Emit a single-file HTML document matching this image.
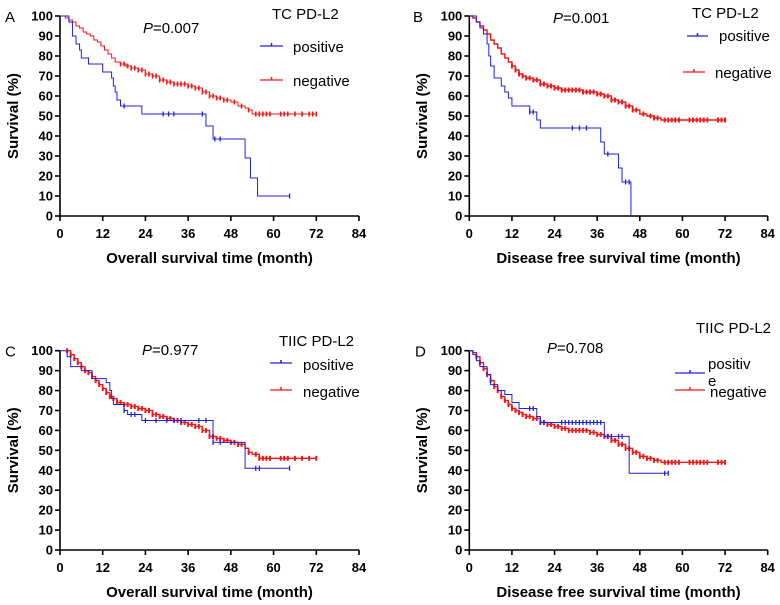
<!DOCTYPE html>
<html><head><meta charset="utf-8"><style>
html,body{margin:0;padding:0;background:#fff;}
svg{display:block;font-family:"Liberation Sans",Arial,sans-serif;}
</style></head><body>
<svg id="chart" width="780" height="605"></svg>
<script>
const xTickLabels=[0,12,24,36,48,60,72,84];
const yTickLabels=[0,10,20,30,40,50,60,70,80,90,100];
// Panel A
const aPosT=[0,2.5,3.5,4.5,5.5,6,8,12,14.5,15,15.5,16,17,23,41,43,52,53.5,55.5,64.5];
const aPosS=[100,97,90,86,83,79,76,72,69,65,62,58,55,51,45,38.5,29,19,10,10];
const aPosC=[18,29,30.5,32,40,43.5,45,64.5];
const aNegT=[0,1.5,2.5,3.5,4.5,5.5,6.5,7.5,8.5,9.5,10.5,11.5,12.5,13.5,14.5,15.5,17,18.5,20,22,24,26,28,30,32,34,36,38,40,42,44,46,48,50,52,53,54,72];
const aNegS=[100,99,98,97,95,94,92,91,90,88,87,85,83,81,79,77,76,75,74,73,71,70,68,67,66,66,65,64,62,60,59,58,57,55,54,53,51,51];
const aNegC=[17,18,19,20,21,22,23,24,25,26,27,28,29,30,31,32,33,34,35,36,37,38,39,40,41,42,43,44,45,46,47,49,51,53,55,56,57,58,59,62,63,64,66,68,70,71,72];
// Panel B
const bPosT=[0,2,3,4,5,5.5,6,7,9,10,11,12,17,19,20,37,38,42,43,45.5];
const bPosS=[100,97,94,91,86,80,75,69,65,62,59,55,52,48,44,37,31,24,17,0];
const bPosC=[17,18,29,31,33,39,44,45];
const bNegT=[0,1,2,3,4,5,6,7,8,9,10,11,12,13,14,15,16,18,20,22,24,26,28,30,32,34,36,38,40,42,44,46,48,50,52,54,72];
const bNegS=[100,99,97,95,93,91,88,86,84,81,79,77,75,73,71,70,69,68,66,65,64,63,63,63,62,62,61,60,58,57,55,53,51,50,49,48,48];
const bNegC=[12,13,14,15,16,17,18,19,20,21,22,23,24,25,26,27,28,29,30,31,32,33,34,35,36,37,38,39,40,41,42,43,44,45,46,47,49,51,52,53,55,56,57,58,59,62,63,64,65,66,67,70,71,72];
// Panel C
const cPosT=[0,1.5,2,3,6,9,13,14,14.5,15,18,19,23,43,52,64.5];
const cPosS=[100,100,97,92,90,86,84,80,76,73,70,68,65,54,41,41];
const cPosC=[18,20,21,24,27,30,32,34,39,41,43,45,55,56,64.5];
const cNegT=[1.5,3,4,5,6,7,8,9,10,11,12,13,14,15,16,18,20,22,24,26,28,30,32,34,36,38,40,42,44,46,48,50,52,53,54,56,72];
const cNegS=[100,98,96,94,92,90,89,87,85,83,81,79,77,76,74,73,72,71,70,68,67,66,65,64,63,62,60,57,56,55,54,53,51,49,48,46,46];
const cNegC=[2,3,4,5,6,7,8,9,10,11,12,13,14,15,16,17,18,19,20,21,22,23,24,25,26,27,28,29,30,31,32,33,34,35,36,37,38,39,40,41,42,43,44,45,46,47,48,49,50,51,53,55,56,57,58,59,62,63,64,66,68,70,72];
// Panel D
const dPosT=[0,1,2,3,5,6,8,10,12,14,19,20,38,45,56];
const dPosS=[100,98,95,92,88,83,80,78,74,71,67,64,57,38.5,38.5];
const dPosC=[17,18,20,21,26,27,28,29,30,31,32,33,34,35,36,37,39,40,42,43,55,56];
const dNegT=[0,1,2,3,4,5,6,7,8,9,10,11,12,13,14,15,16,18,20,22,24,26,28,30,32,34,36,38,40,42,44,46,48,50,52,54,72];
const dNegS=[100,99,97,94,91,88,85,82,80,77,75,73,71,70,69,68,67,66,64,63,62,61,60,60,60,59,58,57,55,53,51,49,47,46,45,44,44];
const dNegC=[2,3,4,5,6,7,8,9,10,11,12,13,14,15,16,17,18,19,20,21,22,23,24,25,26,27,28,29,30,31,32,33,34,35,36,37,38,39,40,41,42,43,44,45,46,47,48,49,50,51,52,53,55,56,57,58,59,62,63,64,65,66,67,70,71,72];

const NS="http://www.w3.org/2000/svg";
const svg=document.getElementById('chart');
function mk(tag,attrs,parent,text){const e=document.createElementNS(NS,tag);for(const k in attrs)e.setAttribute(k,attrs[k]);if(text!==undefined)e.textContent=text;(parent||svg).appendChild(e);return e;}

function surv(T,S,t){let s=S[0];for(let i=0;i<T.length;i++){if(T[i]<=t)s=S[i];}return s;}

function panel(cfg){
  const g=mk('g',{});
  
  
  const X=t=>cfg.x0+(t/84)*(cfg.x1-cfg.x0);
  const Y=v=>cfg.y0-(v/100)*(cfg.y0-cfg.y1);
  const lab=mk('text',{x:cfg.lx,y:cfg.y1+6,'font-size':15,fill:'#000'},g,cfg.letter);
  
  
  const ax=mk('g',{stroke:'#000','stroke-width':1.6},g);
  
  
  mk('line',{x1:cfg.x0,y1:cfg.y1,x2:cfg.x0,y2:cfg.y0},ax);
  mk('line',{x1:cfg.x0,y1:cfg.y0,x2:cfg.x1,y2:cfg.y0},ax);
  yTickLabels.forEach(v=>{
    mk('line',{x1:cfg.x0-5,y1:Y(v),x2:cfg.x0,y2:Y(v)},ax);
    const t=mk('text',{x:cfg.x0-7,y:Y(v)+4.5,'text-anchor':'end','font-size':13,'font-weight':'bold',fill:'#000',stroke:'none'},g,v);
    
    
  });
  xTickLabels.forEach(v=>{
    mk('line',{x1:X(v),y1:cfg.y0,x2:X(v),y2:cfg.y0+5},ax);
    const t=mk('text',{x:X(v),y:cfg.y0+22,'text-anchor':'middle','font-size':13,'font-weight':'bold',fill:'#000'},g,v);
    
    
  });
  const yt=mk('text',{transform:`translate(${cfg.yx},${(cfg.y0+cfg.y1)/2}) rotate(-90)`,'text-anchor':'middle','font-size':15,'font-weight':'bold',fill:'#000'},g,'Survival (%)');
  
  
  const xt=mk('text',{x:(cfg.x0+X(84))/2,y:cfg.y0+47,'text-anchor':'middle','font-size':15,'font-weight':'bold',fill:'#000'},g,cfg.xtitle);
  
  
  cfg.series.forEach(s=>{
    let d=`M${X(s.T[0])},${Y(s.S[0])}`;
    for(let i=1;i<s.T.length;i++){d+=` H${X(s.T[i])} V${Y(s.S[i])}`;}
    const p=mk('path',{d:d,fill:'none',stroke:s.color,'stroke-width':s.w},g);
    
    
    s.C.forEach(c=>{
      const v=surv(s.T,s.S,c);
      const m=mk('line',{x1:X(c),y1:Y(v)-2.5,x2:X(c),y2:Y(v)+2.5,stroke:s.color,'stroke-width':s.cw},g);
      
      
    });
  });
  const tt=mk('text',{x:cfg.tx,y:cfg.ty,'font-size':15,fill:'#000'},g,cfg.title);
  
  
  const pv=mk('text',{x:cfg.px,y:cfg.py,'font-size':15,fill:'#000'},g);
  
  
  mk('tspan',{'font-style':'italic'},pv,'P');
  mk('tspan',{},pv,'='+cfg.p);
  cfg.legend.forEach(L=>{
    const lg=mk('g',{},g);
    
    
    mk('line',{x1:L.lx1,y1:L.ly,x2:L.lx2,y2:L.ly,stroke:L.color,'stroke-width':1.2},lg);
    mk('line',{x1:(L.lx1+L.lx2)/2,y1:L.ly-3,x2:(L.lx1+L.lx2)/2,y2:L.ly,stroke:L.color,'stroke-width':1.5},lg);
    L.lines.forEach((txt,i)=>mk('text',{x:L.tx,y:L.ty+i*17,'font-size':15,fill:'#000'},lg,txt));
  });
}
const B='#2020e0',R='#f01818';
panel({id:'a',letter:'A',lx:5,x0:60,x1:359,y0:216,y1:16,yx:18,xtitle:'Overall survival time (month)',title:'TC PD-L2',tx:272,ty:19,p:'0.007',px:143,py:33,
 series:[{name:'negative',T:aNegT,S:aNegS,C:aNegC,color:R,w:1,cw:1.6},{name:'positive',T:aPosT,S:aPosS,C:aPosC,color:B,w:1,cw:1.3}],
 legend:[{label:'positive',color:B,lx1:260,lx2:283,ly:46,tx:293,ty:52,lines:['positive']},{label:'negative',color:R,lx1:260,lx2:283,ly:80,tx:293,ty:86,lines:['negative']}]});
panel({id:'b',letter:'B',lx:413,x0:469.3,x1:767.7,y0:216,y1:16,yx:427,xtitle:'Disease free survival time (month)',title:'TC PD-L2',tx:692,ty:18,p:'0.001',px:553,py:23,
 series:[{name:'negative',T:bNegT,S:bNegS,C:bNegC,color:R,w:1.4,cw:2},{name:'positive',T:bPosT,S:bPosS,C:bPosC,color:B,w:1,cw:1.3}],
 legend:[{label:'positive',color:B,lx1:687,lx2:708,ly:36,tx:719,ty:41,lines:['positive']},{label:'negative',color:R,lx1:683,lx2:705,ly:72,tx:715,ty:78,lines:['negative']}]});
panel({id:'c',letter:'C',lx:5,x0:60,x1:359,y0:550,y1:350.7,yx:18,xtitle:'Overall survival time (month)',title:'TIIC PD-L2',tx:279,ty:346,p:'0.977',px:142,py:355,
 series:[{name:'negative',T:cNegT,S:cNegS,C:cNegC,color:R,w:1.4,cw:2},{name:'positive',T:cPosT,S:cPosS,C:cPosC,color:B,w:1,cw:1.3}],
 legend:[{label:'positive',color:B,lx1:270,lx2:292,ly:363,tx:303,ty:370,lines:['positive']},{label:'negative',color:R,lx1:270,lx2:292,ly:390,tx:303,ty:397,lines:['negative']}]});
panel({id:'d',letter:'D',lx:415,x0:469.3,x1:767.7,y0:550,y1:350.7,yx:427,xtitle:'Disease free survival time (month)',title:'TIIC PD-L2',tx:696,ty:333,p:'0.708',px:547,py:353,
 series:[{name:'negative',T:dNegT,S:dNegS,C:dNegC,color:R,w:1.4,cw:2},{name:'positive',T:dPosT,S:dPosS,C:dPosC,color:B,w:1,cw:1.3}],
 legend:[{label:'positive',color:B,lx1:675,lx2:705,ly:373,tx:708,ty:369,lines:['positiv','e']},{label:'negative',color:R,lx1:675,lx2:705,ly:390,tx:710,ty:397,lines:['negative']}]});
</script>
</body></html>
